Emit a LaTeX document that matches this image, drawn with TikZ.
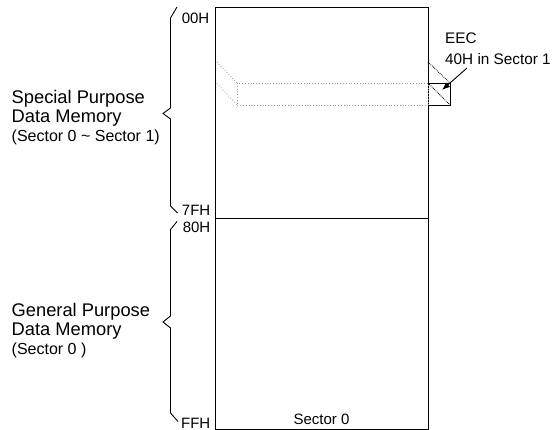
\documentclass[tikz,border=0pt]{standalone}
\usepackage{fontspec}
\setmainfont{Liberation Sans}
\usetikzlibrary{arrows.meta}
\begin{document}
\begin{tikzpicture}[x=1pt,y=-1pt,
  biglbl/.style={font=\fontsize{18.3}{20}\selectfont, inner sep=0pt, anchor=base west},
  smalllbl/.style={font=\fontsize{16}{18}\selectfont, inner sep=0pt, anchor=base west},
  eeclbl/.style={font=\fontsize{15.3}{18}\selectfont, inner sep=0pt, anchor=base west},
  hexlbl/.style={font=\fontsize{15}{17}\selectfont, inner sep=0pt, anchor=base east},
  thinline/.style={line width=0.9pt, line join=miter},
  ghost/.style={dotted, draw=black!40, line width=0.8pt},
  blackdot/.style={densely dotted, draw=black, line width=0.8pt},
]
\useasboundingbox (0,0) rectangle (556,430);
% coordinates
\coordinate (tl) at (215,7);
\coordinate (br) at (428,429.5);
\coordinate (divl) at (215,218.5);
\coordinate (divr) at (428,218.5);
% main box
\draw[thinline] (tl) rectangle (br);
\draw[thinline] (divl) -- (divr);
% braces
\draw[thinline] (177,7) -- (170.5,18) -- (170.5,108) -- (163,113.5) -- (170.5,119) -- (170.5,206) -- (177.5,213);
\draw[thinline] (177,221.5) -- (170.5,229.5) -- (170.5,316) -- (163,322) -- (170.5,328) -- (170.5,413) -- (178,421.5);
% hex labels
\node[hexlbl] (h00) at (209.5,23.5) {00H};
\node[hexlbl] (h7f) at (210.5,215) {7FH};
\node[hexlbl] (h80) at (210.5,232.5) {80H};
\node[hexlbl] (hff) at (210.5,428) {FFH};
% left labels
\node[biglbl] (sp1) at (11.5,103.5) {Special Purpose};
\node[biglbl] (sp2) at (11.5,122.5) {Data Memory};
\node[smalllbl] (sp3) at (11.5,141.5) {(Sector 0 \textasciitilde{} Sector 1)};
\node[biglbl] (gp1) at (11.5,316) {General Purpose};
\node[biglbl] (gp2) at (11.5,335) {Data Memory};
\node[smalllbl] (gp3) at (11.5,354) {(Sector 0 )};
% ghost register row
\coordinate (gA) at (237,83);
\coordinate (gB) at (428,105);
\draw[ghost] (gA) rectangle (gB);
\draw[ghost] (217,62) -- (gA);
\draw[ghost] (217,83.5) -- (237,105);
% EEC box
\coordinate (eA) at (428,83);
\coordinate (eB) at (450,83);
\coordinate (eC) at (450,105);
\coordinate (eD) at (428,105);
\draw[thinline] (eA) -- (eB) -- (eC) -- (eD);
\draw[blackdot] (428,62) -- (eB);
\draw[blackdot] (eA) -- (eC);
% EEC label and arrow
\node[eeclbl] (eec1) at (445,44) {EEC};
\node[eeclbl] (eec2) at (445,64.5) {40H in Sector 1};
\coordinate (arrS) at (467,68);
\coordinate (arrE) at (442,90);
\draw[thinline, -{Latex[length=8pt,width=6pt]}] (arrS) -- (arrE);
% sector label
\node[font=\fontsize{15}{17}\selectfont, inner sep=0pt, anchor=base] (sec0) at (321.5,424) {Sector 0};
\end{tikzpicture}
\end{document}
